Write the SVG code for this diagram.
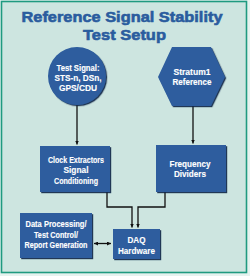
<svg xmlns="http://www.w3.org/2000/svg" width="250" height="276" viewBox="0 0 250 276">
<defs>
<marker id="ah" viewBox="0 0 6 6" refX="6" refY="3" markerWidth="4" markerHeight="4" orient="auto-start-reverse" markerUnits="userSpaceOnUse">
<path d="M0,0 L6,3 L0,6 Z" fill="#111"/>
</marker>
<filter id="sh" x="-10%" y="-10%" width="130%" height="130%">
<feDropShadow dx="1.2" dy="1.2" stdDeviation="0.3" flood-color="#0d2347" flood-opacity="0.9"/>
</filter>
</defs>
<style>
.title{font-family:"Liberation Sans",Arial,sans-serif;font-weight:bold;font-size:15.5px;fill:#2a5c9e;stroke:#2a5c9e;stroke-width:0.6;text-anchor:middle}
.lbl{font-family:"Liberation Sans",Arial,sans-serif;font-weight:bold;font-size:9.5px;fill:#fff;stroke:#fff;stroke-width:0.15;text-anchor:middle}
.node{fill:#2d5d9e;filter:url(#sh)}
.conn{fill:none;stroke:#111;stroke-width:1.3}
</style>
<rect x="0" y="0" width="250" height="276" fill="#e6f2ef"/>
<rect x="1.5" y="1.5" width="245" height="271" fill="#cde5e0" stroke="#1f9a80" stroke-width="1.6"/>
<g id="title">
<text class="title" x="122" y="22" textLength="201" lengthAdjust="spacingAndGlyphs">Reference Signal Stability</text>
<text class="title" x="124.5" y="39.5" textLength="83" lengthAdjust="spacingAndGlyphs">Test Setup</text>
</g>
<g id="connectors">
<path class="conn" d="M77,104 V144.5" marker-end="url(#ah)"/>
<path class="conn" d="M193,106 V143.5" marker-end="url(#ah)"/>
<path class="conn" d="M107,192 V207 H132 V227.5" marker-end="url(#ah)"/>
<path class="conn" d="M165,192 V207 H138 V227.5" marker-end="url(#ah)"/>
<path class="conn" d="M94,243.5 H111" marker-start="url(#ah)" marker-end="url(#ah)"/>
</g>
<g id="test-signal">
<circle class="node" cx="77" cy="76" r="29"/>
<text class="lbl"><tspan x="78" y="71" textLength="43" lengthAdjust="spacingAndGlyphs">Test Signal:</tspan><tspan x="78" y="81" textLength="47" lengthAdjust="spacingAndGlyphs">STS-n, DSn,</tspan><tspan x="78" y="90.5" textLength="38" lengthAdjust="spacingAndGlyphs">GPS/CDU</tspan></text>
</g>
<g id="stratum1">
<polygon class="node" points="158,77 172,47 211,47 225,77 211,106 172,106"/>
<text class="lbl"><tspan x="192" y="75" textLength="37" lengthAdjust="spacingAndGlyphs">Stratum1</tspan><tspan x="192" y="84.5" textLength="39" lengthAdjust="spacingAndGlyphs">Reference</tspan></text>
</g>
<g id="clock-extractors">
<rect class="node" x="40" y="146" width="70" height="46"/>
<text class="lbl"><tspan x="76" y="163" textLength="56" lengthAdjust="spacingAndGlyphs">Clock Extractors</tspan><tspan x="76" y="173" textLength="25" lengthAdjust="spacingAndGlyphs">Signal</tspan><tspan x="76" y="183.5" textLength="44" lengthAdjust="spacingAndGlyphs">Conditioning</tspan></text>
</g>
<g id="frequency-dividers">
<rect class="node" x="156" y="145" width="70" height="47"/>
<text class="lbl"><tspan x="190" y="166.5" textLength="41" lengthAdjust="spacingAndGlyphs">Frequency</tspan><tspan x="190" y="176.5" textLength="32" lengthAdjust="spacingAndGlyphs">Dividers</tspan></text>
</g>
<g id="data-processing">
<rect class="node" x="20" y="213" width="72" height="45"/>
<text class="lbl"><tspan x="56" y="227" textLength="61" lengthAdjust="spacingAndGlyphs">Data Processing/</tspan><tspan x="56" y="237.5" textLength="44" lengthAdjust="spacingAndGlyphs">Test Control/</tspan><tspan x="56" y="248" textLength="63" lengthAdjust="spacingAndGlyphs">Report Generation</tspan></text>
</g>
<g id="daq-hardware">
<rect class="node" x="113" y="229" width="47" height="30"/>
<text class="lbl"><tspan x="136.5" y="243" textLength="18" lengthAdjust="spacingAndGlyphs">DAQ</tspan><tspan x="136.5" y="254" textLength="37" lengthAdjust="spacingAndGlyphs">Hardware</tspan></text>
</g>
</svg>
